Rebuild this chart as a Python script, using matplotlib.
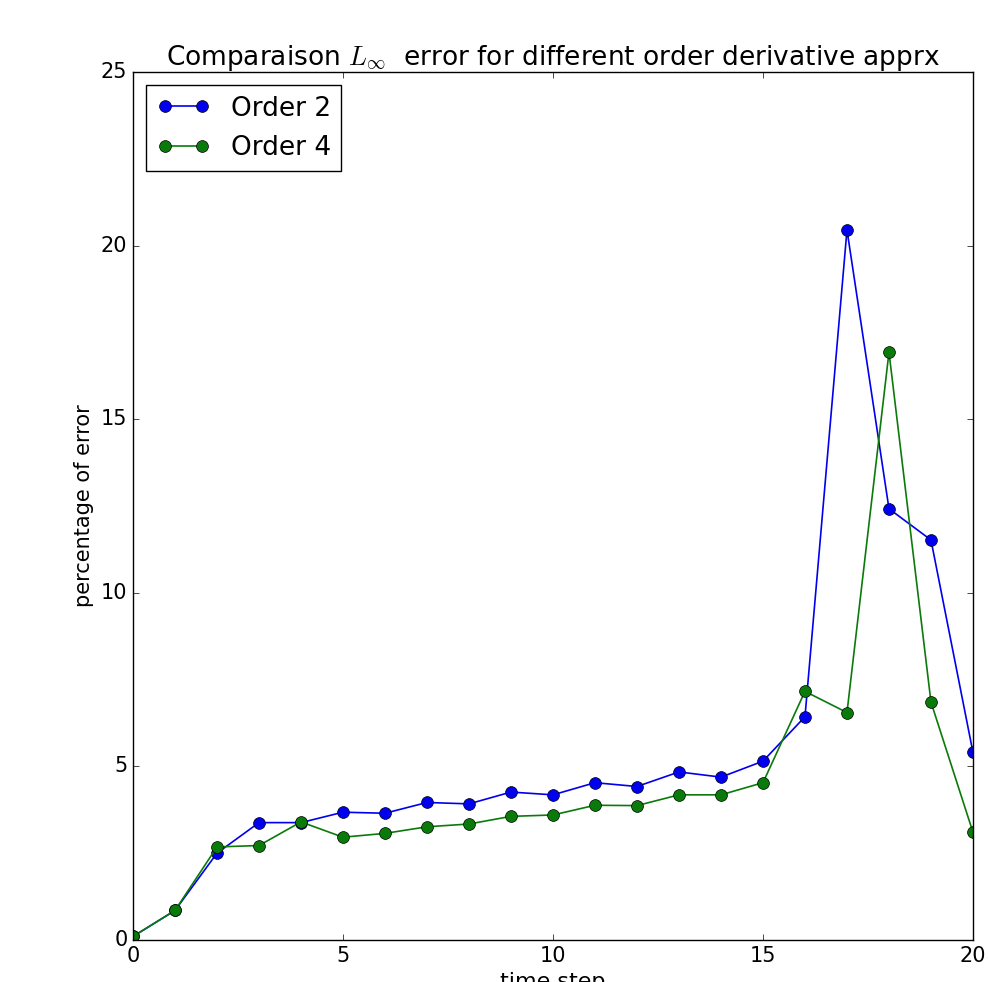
import matplotlib
matplotlib.use("Agg")
import matplotlib.pyplot as plt
import numpy as np

# time steps and error values
steps = list(range(21))
order2 = [0.1, 0.85, 2.5, 3.38, 3.38, 3.68, 3.65, 3.96, 3.92, 4.26, 4.18,
          4.53, 4.42, 4.84, 4.69, 5.15, 6.43, 20.45, 12.42, 11.52, 5.4]
order4 = [0.1, 0.85, 2.68, 2.72, 3.4, 2.96, 3.07, 3.26, 3.34, 3.56, 3.6,
          3.88, 3.87, 4.18, 4.18, 4.53, 7.16, 6.55, 16.93, 6.85, 3.1]

plt.style.use("classic")
fig = plt.figure(figsize=(9.88, 9.82), dpi=100)
ax = fig.add_axes([0.1346, 0.0428, 0.8502, 0.8839])

ax.plot(steps, order2, "-o", color="#0000ee", label="Order 2", markersize=8.5, linewidth=1.2)
ax.plot(steps, order4, "-o", color="#0a7a0a", label="Order 4", markersize=8.5, linewidth=1.2)

ax.set_xlim(0, 20)
ax.set_ylim(0, 25)
ax.set_xticks([0, 5, 10, 15, 20])
ax.set_yticks([0, 5, 10, 15, 20, 25])
ax.tick_params(labelsize=15)

ax.set_title(r"Comparaison $L_\infty$  error for different order derivative apprx", fontsize=19)
ax.set_xlabel("time step", fontsize=16)
ax.set_ylabel("percentage of error", fontsize=15)
ax.legend(loc="upper left", fontsize=19, numpoints=2)

fig.savefig("out.png", dpi=100)
